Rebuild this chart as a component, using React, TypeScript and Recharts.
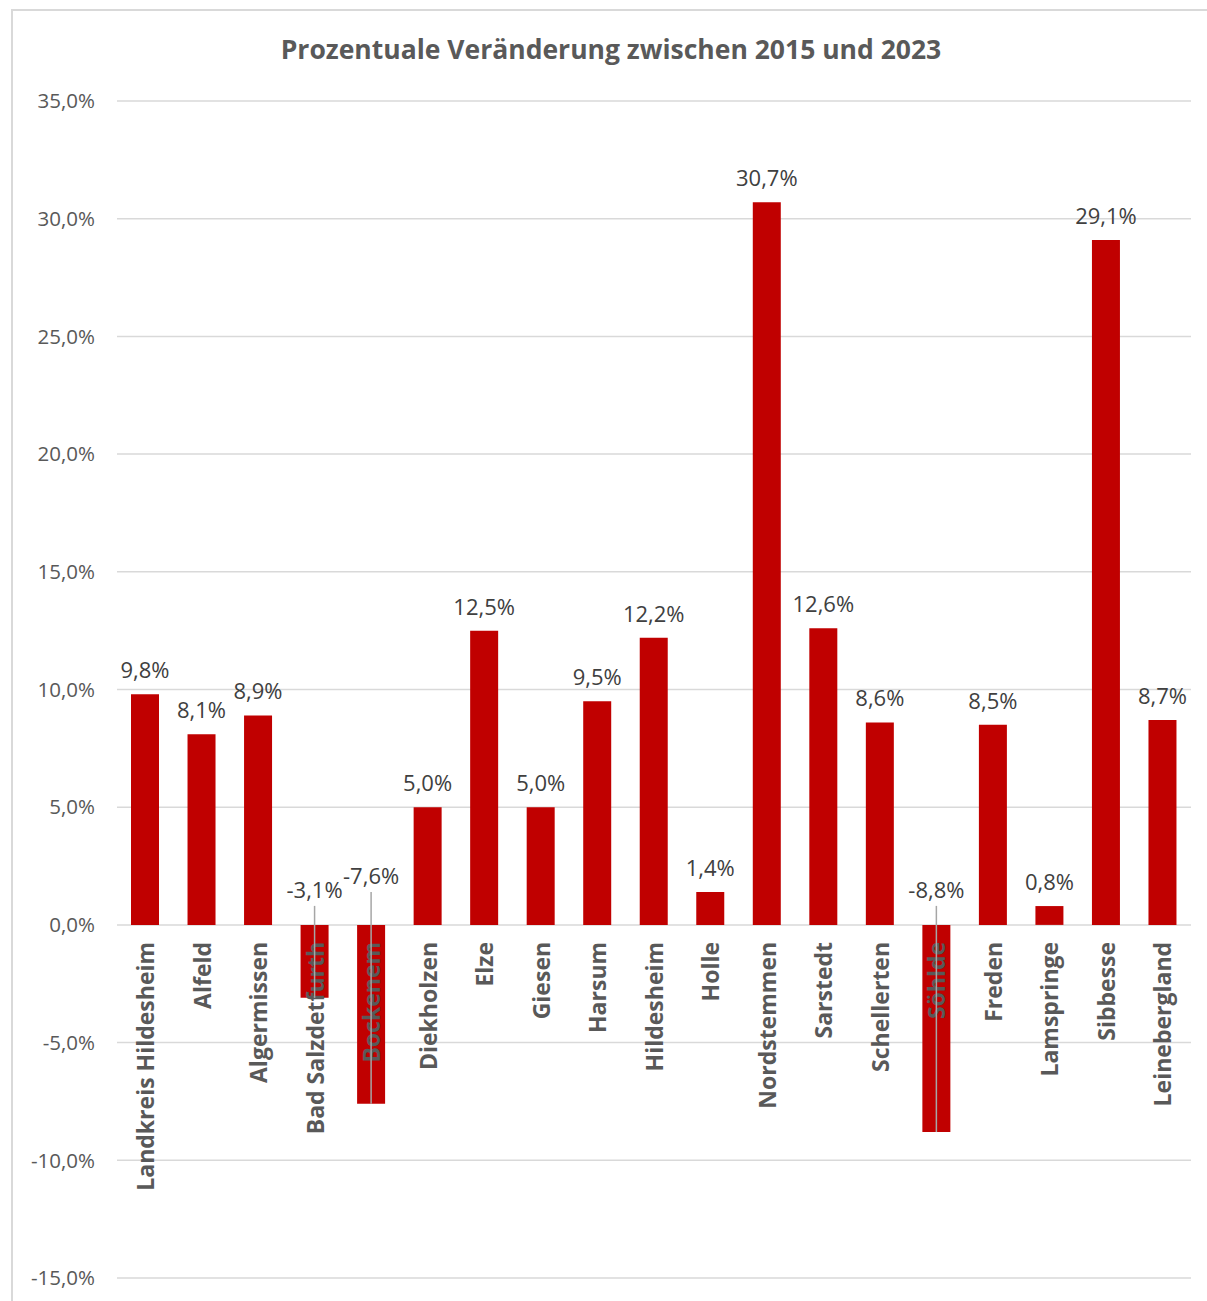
import { BarChart, Bar, XAxis, YAxis, CartesianGrid, LabelList } from "recharts";

const gemeinden = [
  "Landkreis Hildesheim", "Alfeld", "Algermissen", "Bad Salzdetfurth", "Bockenem",
  "Diekholzen", "Elze", "Giesen", "Harsum", "Hildesheim", "Holle", "Nordstemmen",
  "Sarstedt", "Schellerten", "Söhlde", "Freden", "Lamspringe", "Sibbesse", "Leinebergland",
];

const veraenderung = [
  9.8, 8.1, 8.9, -3.1, -7.6, 5.0, 12.5, 5.0, 9.5, 12.2, 1.4, 30.7,
  12.6, 8.6, -8.8, 8.5, 0.8, 29.1, 8.7,
];

const yTicks = [-15, -10, -5, 0, 5, 10, 15, 20, 25, 30, 35];

const chartData = gemeinden.map((name, i) => ({ name, wert: veraenderung[i] }));

const fmt = (v: number) => `${v.toFixed(1).replace(".", ",")}%`;
const FONT = "'Open Sans', sans-serif";

// value label above bar; negative bars get label above the zero line plus a leader line
const ValueLabel = (props: any) => {
  const { x, y, width, height, value, index } = props;
  const top = Math.min(y, y + height);
  const bottom = Math.max(y, y + height);
  const cx = x + width / 2;
  if (value >= 0) {
    return (
      <text x={cx} y={top - 16} textAnchor="middle" fill="#404040" fontSize={22} fontFamily={FONT}>
        {fmt(value)}
      </text>
    );
  }
  // lift the label when the neighbour on the left is negative too, so they don't collide
  const lifted = index > 0 && veraenderung[index - 1] < 0;
  const base = top - (lifted ? 41 : 27);
  return (
    <g>
      <line x1={cx} y1={base + 8} x2={cx} y2={bottom} stroke="#a6a6a6" strokeWidth={1.5} />
      <text x={cx} y={base} textAnchor="middle" fill="#404040" fontSize={22} fontFamily={FONT}>
        {fmt(value)}
      </text>
    </g>
  );
};

// category names sit just below the zero line, rotated
const NameLabel = (props: any) => {
  const { x, y, width, height, value, index } = props;
  const v = veraenderung[index];
  const zeroY = v >= 0 ? Math.max(y, y + height) : Math.min(y, y + height);
  const cx = x + width / 2;
  return (
    <text
      x={cx}
      y={zeroY + 17}
      transform={`rotate(-90, ${cx}, ${zeroY + 17})`}
      textAnchor="end"
      dominantBaseline="central"
      fill="#595959"
      fontSize={23}
      fontWeight="bold"
      fontFamily={FONT}
    >
      {value}
    </text>
  );
};

export default function App() {
  return (
    <div
      style={{
        position: "absolute",
        left: 11,
        top: 9,
        width: 1196,
        height: 1292,
        borderTop: "2px solid #d9d9d9",
        borderLeft: "2px solid #d9d9d9",
        boxSizing: "border-box",
        background: "#fff",
        fontFamily: FONT,
      }}
    >
      <div
        style={{
          position: "absolute",
          top: 20,
          left: 0,
          width: 1196,
          textAlign: "center",
          fontSize: 26.5,
          fontWeight: "bold",
          color: "#595959",
        }}
      >
        Prozentuale Veränderung zwischen 2015 und 2023
      </div>
      <div style={{ position: "absolute", left: -2, top: -2 }}>
        <BarChart
          width={1196}
          height={1292}
          data={chartData}
          margin={{ top: 92, right: 16, bottom: 23, left: 0 }}
          barSize={28}
        >
          <CartesianGrid vertical={false} stroke="#d9d9d9" strokeWidth={1.5} />
          <XAxis dataKey="name" hide />
          <YAxis
            width={106}
            domain={[-15, 35]}
            ticks={yTicks}
            tickFormatter={fmt}
            axisLine={false}
            tickLine={false}
            tickSize={0}
            tickMargin={22}
            tick={{ fill: "#595959", fontSize: 20.5, fontFamily: FONT }}
          />
          <Bar dataKey="wert" fill="#c00000" isAnimationActive={false}>
            <LabelList dataKey="name" content={NameLabel} />
            <LabelList dataKey="wert" content={ValueLabel} />
          </Bar>
        </BarChart>
      </div>
    </div>
  );
}
